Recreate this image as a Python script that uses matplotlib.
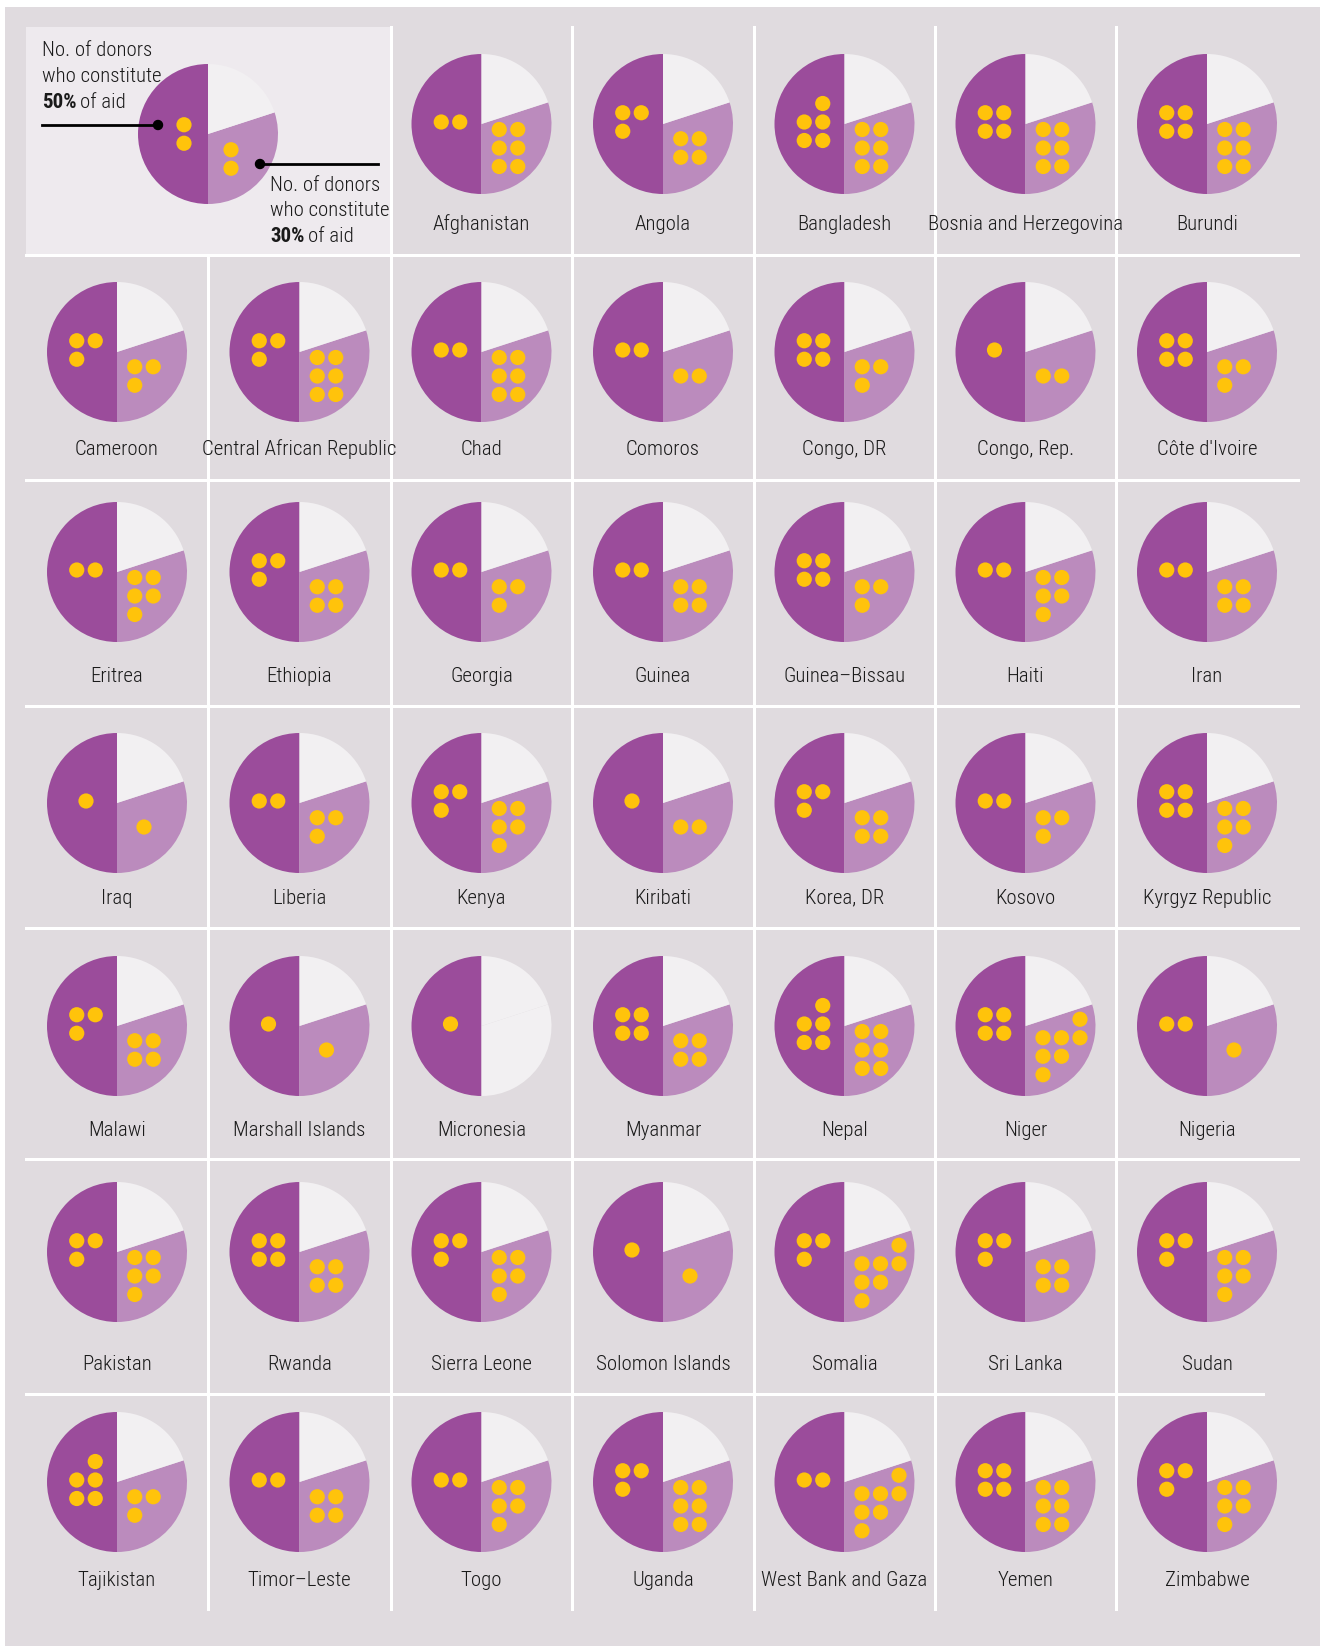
import math
import matplotlib
matplotlib.use('Agg')
import matplotlib.pyplot as plt
from matplotlib.patches import Circle, Rectangle

# countries in reading order (legend takes the first two cells)
countries = [
    'Afghanistan', 'Angola', 'Bangladesh', 'Bosnia and Herzegovina', 'Burundi',
    'Cameroon', 'Central African Republic', 'Chad', 'Comoros', 'Congo, DR', 'Congo, Rep.', "Côte d'Ivoire",
    'Eritrea', 'Ethiopia', 'Georgia', 'Guinea', 'Guinea\u2013Bissau', 'Haiti', 'Iran',
    'Iraq', 'Liberia', 'Kenya', 'Kiribati', 'Korea, DR', 'Kosovo', 'Kyrgyz Republic',
    'Malawi', 'Marshall Islands', 'Micronesia', 'Myanmar', 'Nepal', 'Niger', 'Nigeria',
    'Pakistan', 'Rwanda', 'Sierra Leone', 'Solomon Islands', 'Somalia', 'Sri Lanka', 'Sudan',
    'Tajikistan', 'Timor\u2013Leste', 'Togo', 'Uganda', 'West Bank and Gaza', 'Yemen', 'Zimbabwe',
]
# number of donors making up 50% and the next 30% of aid
donors_50 = [2, 3, 5, 4, 4,
             3, 3, 2, 2, 4, 1, 4,
             2, 3, 2, 2, 4, 2, 2,
             1, 2, 3, 1, 3, 2, 4,
             3, 1, 1, 4, 5, 4, 2,
             3, 4, 3, 1, 3, 3, 3,
             5, 2, 2, 3, 2, 4, 3]
donors_30 = [6, 4, 6, 6, 6,
             3, 6, 6, 2, 3, 2, 3,
             5, 4, 3, 4, 3, 5, 4,
             1, 3, 5, 2, 4, 3, 5,
             4, 1, 0, 4, 6, 7, 1,
             5, 4, 5, 1, 7, 4, 5,
             3, 4, 5, 6, 7, 6, 5]
shares = [50, 30, 20]

W, H = 1320, 1646
DARK, MID, LIGHT = '#9b4c9b', '#bb8bbd', '#f2f0f2'
YELLOW = '#ffc30b'
BG, BOX = '#e0dbdf', '#eeeaee'
INK = '#1a1a1a'

col_edges = [26, 208, 391, 572, 754, 935, 1116, 1298]
row_edges = [27, 255, 480, 706, 928, 1159, 1394, 1609]
pie_y = [124, 352, 572, 803, 1026, 1252, 1482]
label_y = [224, 449, 676, 898, 1130, 1365, 1580]
R = 70
DOT_R = 7.6
STEP = 18.5
FS = 15

plt.rcParams['font.family'] = ['Roboto Condensed', 'Archivo Narrow', 'DejaVu Sans']
plt.rcParams['font.weight'] = 'light'

fig = plt.figure(figsize=(W / 100, H / 100), dpi=100)
fig.patch.set_facecolor('white')
ax = fig.add_axes([0, 0, 1, 1])


def Y(y):
    return H - y


def place(cells, cx, cy):
    # centre a group of grid cells (col, row) on cx, cy (pixels, y down)
    c0 = min(c for c, r in cells); c1 = max(c for c, r in cells)
    r0 = min(r for c, r in cells); r1 = max(r for c, r in cells)
    mx, my = (c0 + c1) / 2, (r0 + r1) / 2
    for c, r in cells:
        ax.add_patch(Circle((cx + (c - mx) * STEP, Y(cy + (r - my) * STEP)), DOT_R,
                            color=YELLOW, lw=0, zorder=5))


def dark_cells(n):
    rows = math.ceil(n / 2)
    cells = [(c, r) for r in range(rows) for c in range(2)]
    if n % 2:
        cells.remove((0, 0) if n >= 5 else (1, rows - 1))
    return cells


def mid_cells(n):
    if n >= 7:
        return [(2, 0), (0, 1), (1, 1), (2, 1), (0, 2), (1, 2), (0, 3)][:n]
    return [(i % 2, i // 2) for i in range(n)]


def draw_pie(cx, cy, n50, n30, legend=False):
    cols = [DARK, MID if n30 > 0 else LIGHT, LIGHT]
    ax.pie(shares, center=(cx, Y(cy)), radius=R, startangle=90, counterclock=True,
           colors=cols, wedgeprops=dict(linewidth=0), frame=True)
    if legend:
        place([(0, r) for r in range(n50)], cx - 24, cy)
        place([(0, r) for r in range(n30)], cx + 23, cy + 25)
        return
    if n50:
        place(dark_cells(n50), cx - 31, cy - 2)
    if n30:
        if n30 >= 7:
            place(mid_cells(n30), cx + 36, cy + 21)
        else:
            place(mid_cells(n30), cx + 27, cy + 24)


# background and legend box
ax.add_patch(Rectangle((5, 0), W - 5, H - 7, color=BG, lw=0, zorder=0))
ax.add_patch(Rectangle((col_edges[0], Y(row_edges[1])), col_edges[2] - col_edges[0],
                       row_edges[1] - row_edges[0], color=BOX, lw=0, zorder=0.5))

# white grid lines
for i, y in enumerate(row_edges[1:-1]):
    x1 = 1263 if i == len(row_edges) - 3 else col_edges[-1]
    ax.plot([col_edges[0], x1], [Y(y), Y(y)], color='white', lw=2.2, zorder=1)
for j, x in enumerate(col_edges[1:-1]):
    y0 = row_edges[1] if j == 0 else row_edges[0]
    ax.plot([x, x], [Y(y0), Y(row_edges[-1])], color='white', lw=2.2, zorder=1)

# country pies
for k, name in enumerate(countries):
    slot = k + 2
    r, c = slot // 7, slot % 7
    cx = (col_edges[c] + col_edges[c + 1]) / 2
    draw_pie(cx, pie_y[r], donors_50[k], donors_30[k])
    ax.text(cx, Y(label_y[r]), name, ha='center', va='center', fontsize=FS, color=INK)

# legend pie with callouts
draw_pie(208, 134, 2, 2, legend=True)
ax.plot([42, 158], [Y(125), Y(125)], color='black', lw=2, zorder=6)
ax.add_patch(Circle((158, Y(125)), 4.5, color='black', zorder=6))
ax.plot([260, 378], [Y(164), Y(164)], color='black', lw=2, zorder=6)
ax.add_patch(Circle((260, Y(164)), 4.5, color='black', zorder=6))

ax.set_xlim(0, W)
ax.set_ylim(0, H)
ax.set_aspect('equal')
ax.axis('off')
fig.canvas.draw()
renderer = fig.canvas.get_renderer()


def note(x, ys, pct):
    ax.text(x, Y(ys[0]), 'No. of donors', fontsize=FS, va='center', color=INK)
    ax.text(x, Y(ys[1]), 'who constitute', fontsize=FS, va='center', color=INK)
    t = ax.text(x, Y(ys[2]), pct, fontsize=FS, va='center', fontweight='bold', color=INK)
    bb = t.get_window_extent(renderer)
    ax.text(bb.x1 + 4, Y(ys[2]), 'of aid', fontsize=FS, va='center', color=INK)


note(42, [50, 76, 102], '50%')
note(270, [185, 210, 236], '30%')

fig.savefig('out.png', dpi=100)
